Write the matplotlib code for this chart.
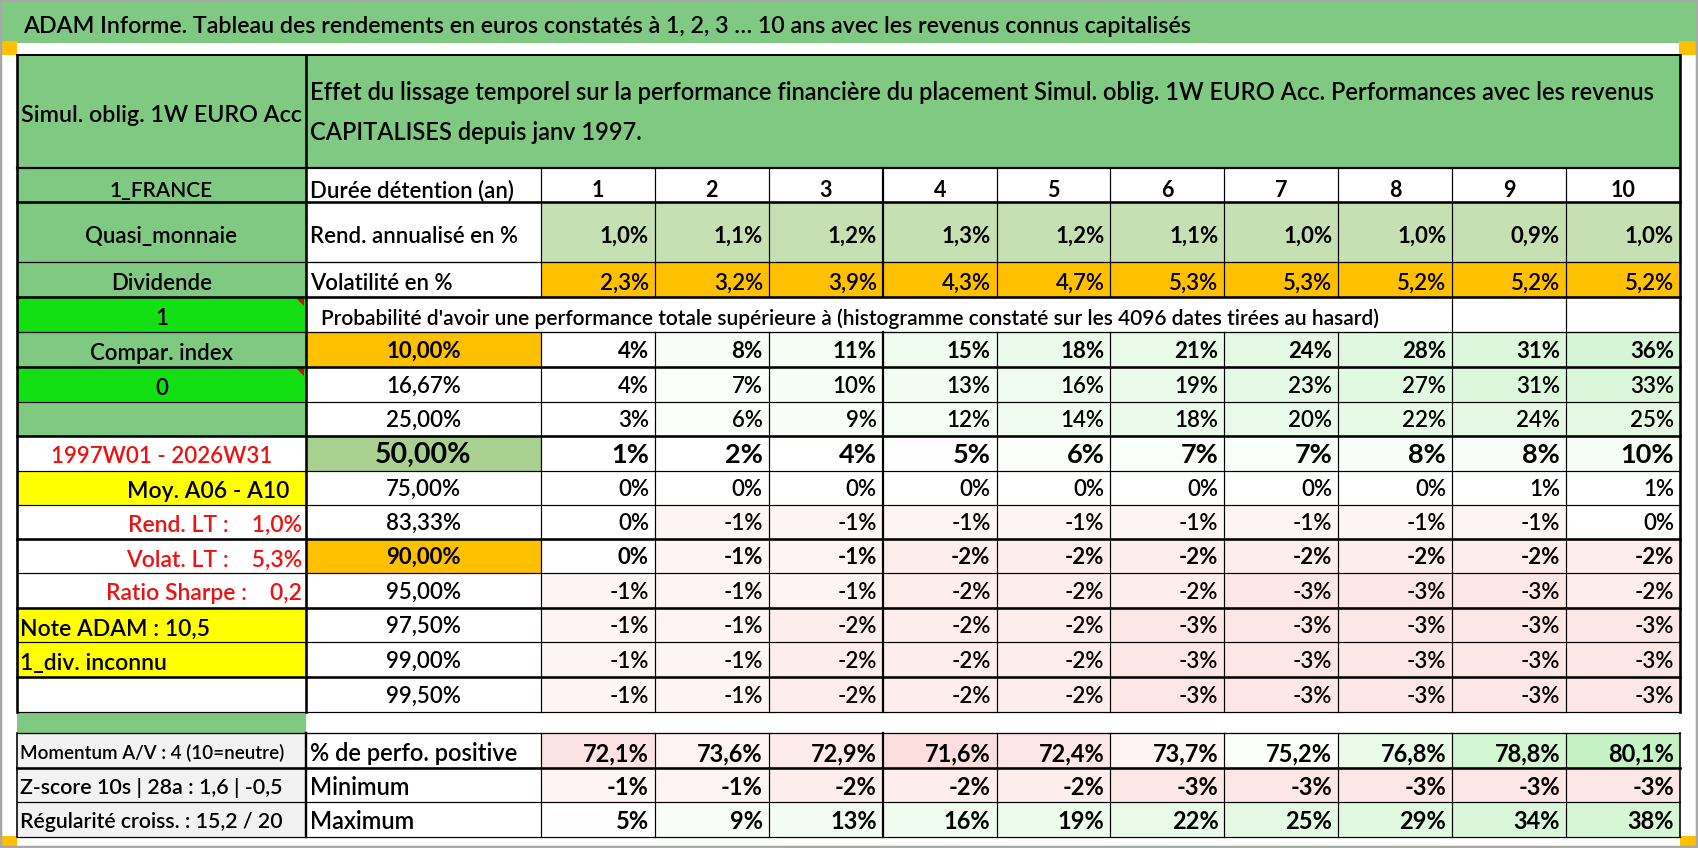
import matplotlib
matplotlib.use('Agg')
import matplotlib.pyplot as plt
from matplotlib.patches import Rectangle, Polygon

plt.rcParams['font.family'] = ['Lato', 'DejaVu Sans']

# ---------------- data ----------------
title = "ADAM Informe. Tableau des rendements en euros constatés à 1, 2, 3 … 10 ans avec les revenus connus capitalisés"
header_left = "Simul. oblig. 1W EURO Acc"
header_line1 = ("Effet du lissage temporel sur la performance financière du placement "
                "Simul. oblig. 1W EURO Acc. Performances avec les revenus")
header_line2 = "CAPITALISES depuis janv 1997."
prob_title = ("Probabilité d'avoir une performance totale supérieure à "
              "(histogramme constaté sur les 4096 dates tirées au hasard)")

durations = [1, 2, 3, 4, 5, 6, 7, 8, 9, 10]
rend_annualise = [1.0, 1.1, 1.2, 1.3, 1.2, 1.1, 1.0, 1.0, 0.9, 1.0]
volatilite = [2.3, 3.2, 3.9, 4.3, 4.7, 5.3, 5.3, 5.2, 5.2, 5.2]

seuils = ["10,00%", "16,67%", "25,00%", "50,00%", "75,00%", "83,33%",
          "90,00%", "95,00%", "97,50%", "99,00%", "99,50%"]
prob_10 = [4, 8, 11, 15, 18, 21, 24, 28, 31, 36]
prob_1667 = [4, 7, 10, 13, 16, 19, 23, 27, 31, 33]
prob_25 = [3, 6, 9, 12, 14, 18, 20, 22, 24, 25]
prob_50 = [1, 2, 4, 5, 6, 7, 7, 8, 8, 10]
prob_75 = [0, 0, 0, 0, 0, 0, 0, 0, 1, 1]
prob_8333 = [0, -1, -1, -1, -1, -1, -1, -1, -1, 0]
prob_90 = [0, -1, -1, -2, -2, -2, -2, -2, -2, -2]
prob_95 = [-1, -1, -1, -2, -2, -2, -3, -3, -3, -2]
prob_975 = [-1, -1, -2, -2, -2, -3, -3, -3, -3, -3]
prob_99 = [-1, -1, -2, -2, -2, -3, -3, -3, -3, -3]
prob_995 = [-1, -1, -2, -2, -2, -3, -3, -3, -3, -3]

perf_positive = [72.1, 73.6, 72.9, 71.6, 72.4, 73.7, 75.2, 76.8, 78.8, 80.1]
minimum = [-1, -1, -2, -2, -2, -3, -3, -3, -3, -3]
maximum = [5, 9, 13, 16, 19, 22, 25, 29, 34, 38]

left_labels = ["1_FRANCE", "Quasi_monnaie", "Dividende", "1", "Compar. index", "0", "",
               "1997W01 - 2026W31", "Moy. A06 - A10", "Rend. LT :    1,0%",
               "Volat. LT :    5,3%", "Ratio Sharpe :    0,2", "Note ADAM : 10,5",
               "1_div. inconnu", ""]
row_labels = ["Durée détention (an)", "Rend. annualisé en %", "Volatilité en %"]
bottom_left = ["Momentum A/V : 4 (10=neutre)", "Z-score 10s | 28a : 1,6 | -0,5",
               "Régularité croiss. : 15,2 / 20"]
bottom_labels = ["% de perfo. positive", "Minimum", "Maximum"]

# ---------------- styles ----------------
GREEN = '#80C982'
BRIGHT = '#12E012'
YELLOW = '#FFFF00'
ORANGE = '#FFC000'
LGREEN = '#C6E0B4'
MGREEN = '#A9D08E'
GRAYC = '#F2F2F2'
RED = '#EE1111'
NW = 'semibold'   # weight used for the "regular" text

W, H = 1698, 848
X0, X1, X2, XR = 17, 306, 541, 1680
CW = (XR - X2) / 10
EDGES = [168, 202, 262, 297, 332, 367, 402, 436, 471, 505, 539, 573, 608, 642, 677, 712]
HLW = [2.2, 2.6, 1.3, 2.6, 1.3, 2.6, 1.2, 2.6, 1.2, 1.2, 2.6, 1.2, 2.6, 1.2, 2.6, 1.2]
BEDGES = [733, 768, 802, 837]
BHLW = [1.3, 2.6, 1.2, 1.2]

fig = plt.figure(figsize=(W / 100, H / 100), dpi=100)
ax = fig.add_axes([0, 0, 1, 1])
ax.set_xlim(0, W)
ax.set_ylim(H, 0)
ax.axis('off')
renderer = fig.canvas.get_renderer()


def rect(x0, y0, x1, y1, color, z=1):
    ax.add_patch(Rectangle((x0, y0), x1 - x0, y1 - y0, facecolor=color,
                           edgecolor='none', zorder=z))


def hline(y, xa, xb, lw, color='black'):
    ax.plot([xa, xb], [y, y], color=color, lw=lw * 0.72, solid_capstyle='projecting', zorder=3)


def vline(x, ya, yb, lw, color='black'):
    ax.plot([x, x], [ya, yb], color=color, lw=lw * 0.72, solid_capstyle='projecting', zorder=3)


def put(x, y, s, ha='left', size=15.5, weight=NW, color='black', maxw=None):
    t = ax.text(x, y, s, ha=ha, va='baseline', fontsize=size, fontweight=weight,
                color=color, zorder=5)
    if maxw is not None:
        w = t.get_window_extent(renderer).width
        if w > maxw:
            t.set_fontsize(size * maxw / w)
    return t


def mix(c, t):
    r, g, b = c
    return ((1 - t) + t * r / 255, (1 - t) + t * g / 255, (1 - t) + t * b / 255)


def prob_color(v):
    if v > 0:
        t = min(max((v - 3) / 33.0, 0), 1)
        return mix((0xD6, 0xF5, 0xD6), t)
    if v < 0:
        t = 0.45 + 0.55 * min((-v - 1) / 2.0, 1)
        return mix((0xFC, 0xE6, 0xE6), t)
    return (1, 1, 1)


def perf_color(v):
    mid = 74.8
    if v < mid:
        return mix((0xFC, 0xDE, 0xDE), min((mid - v) / 3.2, 1))
    return mix((0xC4, 0xF2, 0xC4), min((v - mid) / 5.3, 1))


def max_color(v):
    return mix((0xD6, 0xF6, 0xD6), min(max((v - 3) / 35.0, 0), 1))


def pct(v, dec=0):
    if dec:
        return f"{v:.{dec}f}%".replace('.', ',')
    return f"{v:.0f}%"


def col_right(k):
    return X2 + (k + 1) * CW - 6


def col_center(k):
    return X2 + (k + 0.5) * CW


# ---------------- backgrounds ----------------
rect(0, 0, W, 43, GREEN)
rect(0, 41, 17, 55, ORANGE, 2)
rect(1679, 41, 1696, 55, ORANGE, 2)
rect(0, 836, 17, 847, ORANGE, 2)
rect(1680, 836, 1697, 847, ORANGE, 2)
rect(X0, 55, XR, 168, GREEN)

col0_bg = [GREEN, GREEN, GREEN, BRIGHT, GREEN, BRIGHT, GREEN, 'white', YELLOW,
           'white', 'white', 'white', YELLOW, YELLOW, 'white']
for i, c in enumerate(col0_bg):
    rect(X0, EDGES[i], X1, EDGES[i + 1], c)
rect(X0, 712, X1, 733, GREEN)
for i in range(3):
    rect(X0, BEDGES[i], X1, BEDGES[i + 1], GRAYC)

# col1 of the quantile rows
col1_bg = [ORANGE, 'white', 'white', MGREEN, 'white', 'white', ORANGE,
           'white', 'white', 'white', 'white']
for i, c in enumerate(col1_bg):
    rect(X1, EDGES[i + 4], X2, EDGES[i + 5], c)

for k in range(10):
    xa, xb = X2 + k * CW, X2 + (k + 1) * CW
    rect(xa, 202, xb, 262, LGREEN)
    rect(xa, 262, xb, 297, ORANGE)

prob_rows = [prob_10, prob_1667, prob_25, prob_50, prob_75, prob_8333,
             prob_90, prob_95, prob_975, prob_99, prob_995]
for i, row in enumerate(prob_rows):
    for k, v in enumerate(row):
        rect(X2 + k * CW, EDGES[i + 4], X2 + (k + 1) * CW, EDGES[i + 5], prob_color(v))

for k in range(10):
    xa, xb = X2 + k * CW, X2 + (k + 1) * CW
    rect(xa, 733, xb, 768, perf_color(perf_positive[k]))
    rect(xa, 768, xb, 802, prob_color(minimum[k]))
    rect(xa, 802, xb, 837, max_color(maximum[k]))

# comment markers
for y in (297, 367):
    ax.add_patch(Polygon([(X1 - 9, y + 1.5), (X1 - 1.5, y + 1.5), (X1 - 1.5, y + 9)],
                         closed=True, facecolor='#E00000', edgecolor='none', zorder=4))

# ---------------- grid lines ----------------
hline(55, X0, XR, 2.0)
for y, lw in zip(EDGES, HLW):
    hline(y, X0, XR, lw)
for y, lw in zip(BEDGES, BHLW):
    hline(y, X0, XR, lw)

vline(X0, 55, 712, 2.6)
vline(X1, 55, 712, 2.6)
vline(XR, 55, 712, 2.6)
for ya, yb in zip(EDGES[:-1], EDGES[1:]):
    if ya == 297:
        for k in (8, 9):
            vline(X2 + k * CW, ya, yb, 1.2)
        continue
    vline(X2, ya, yb, 1.2)
    for k in range(1, 10):
        vline(X2 + k * CW, ya, yb, 2.2 if k == 3 else 1.2)

vline(X0, 733, 837, 1.6)
vline(X1, 733, 837, 2.4)
vline(X2, 733, 837, 1.2)
vline(XR, 733, 837, 1.6)
for k in range(1, 10):
    vline(X2 + k * CW, 733, 837, 2.2 if k == 3 else 1.2)

# outer grey frame
GR = '#A8A8A8'
vline(1, 0, H, 2.5, GR)
hline(1, 0, W, 2.0, GR)
hline(846.5, 0, W, 2.5, GR)
vline(1697, 0, H, 2.5, GR)

# ---------------- texts ----------------
put(23, 33, title, size=17.5, maxw=1170)
put((X0 + X1) / 2, 122, header_left, ha='center', size=17, maxw=281)
t1 = put(310, 100, header_line1, size=17.5, maxw=1338)
put(310, 140, header_line2, size=t1.get_fontsize())

BASE = [197, 243, 290, 325, 360, 395, 428, 463, 498, 532, 567, 600, 636, 670, 704]
for i, lab in enumerate(left_labels):
    if not lab:
        continue
    if i in (0, 1, 2, 3, 4, 5):
        put((X0 + X1) / 2, BASE[i], lab, ha='center', size=15 if i == 0 else 16)
    elif i == 7:
        put((X0 + X1) / 2, BASE[i], lab, ha='center', size=16, color=RED)
    elif i == 8:
        put(289, BASE[i], lab, ha='right', size=16.5)
    elif i in (9, 10, 11):
        put(302, BASE[i], lab, ha='right', size=16.5, color=RED)
    else:
        put(20, BASE[i], lab, ha='left', size=16.5, maxw=280)

for i, lab in enumerate(row_labels):
    put(310, BASE[i], lab, size=16, maxw=228)

put(321, 325, prob_title, size=16, maxw=1062)

for k in range(10):
    put(col_center(k), 197, str(durations[k]), ha='center', size=15.5, weight='bold')
    put(col_right(k), 243, pct(rend_annualise[k], 1), ha='right', size=16, weight='bold')
    put(col_right(k), 290, pct(volatilite[k], 1), ha='right', size=16)

bold_rows = {0, 3, 6}
for i, row in enumerate(prob_rows):
    yb = EDGES[i + 5] - 9
    big = (i == 3)
    size = 19.5 if big else 16
    weight = 'bold' if i in bold_rows else NW
    if big:
        yb = EDGES[i + 5] - 8
    put((X1 + X2) / 2, yb, seuils[i], ha='center', size=20.5 if big else 16, weight=weight)
    for k, v in enumerate(row):
        put(col_right(k), yb, pct(v), ha='right', size=size, weight=weight)

for i, lab in enumerate(bottom_left):
    put(20, [759, 794, 828][i], lab, size=16, maxw=264)
for i, lab in enumerate(bottom_labels):
    put(310, [761, 795, 829][i], lab, size=17, maxw=228)
for k in range(10):
    put(col_right(k), 761, pct(perf_positive[k], 1), ha='right', size=17, weight='bold')
    put(col_right(k), 795, pct(minimum[k]), ha='right', size=17, weight='bold')
    put(col_right(k), 829, pct(maximum[k]), ha='right', size=17, weight='bold')

fig.savefig('out.png', dpi=100)
